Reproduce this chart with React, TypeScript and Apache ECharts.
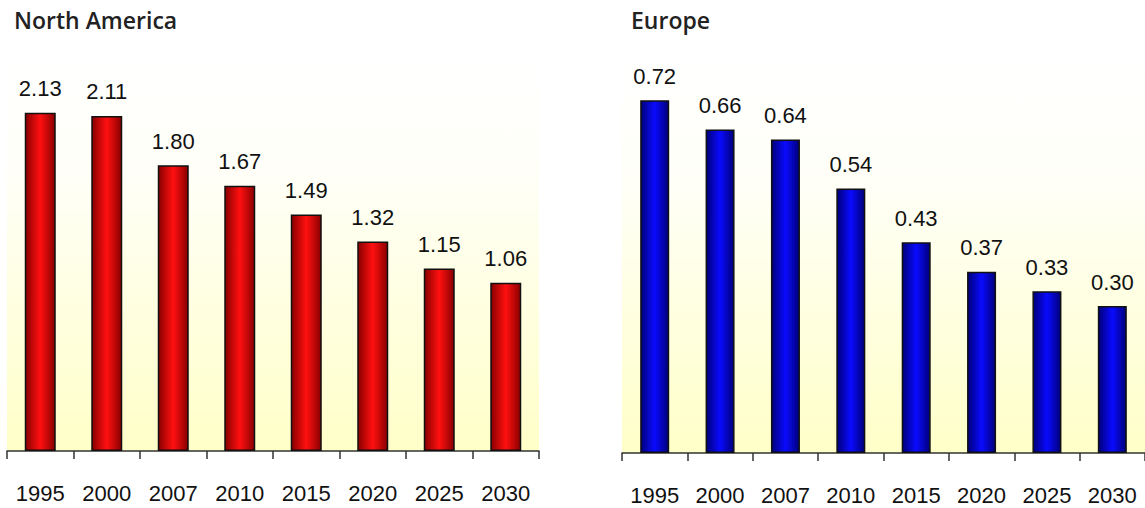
import React, { useEffect, useRef } from "react";
import * as echarts from "echarts";

const years = ["1995", "2000", "2007", "2010", "2015", "2020", "2025", "2030"];
const northAmerica = [2.13, 2.11, 1.8, 1.67, 1.49, 1.32, 1.15, 1.06];
const europe = [0.72, 0.66, 0.64, 0.54, 0.43, 0.37, 0.33, 0.3];
const titles = ["North America", "Europe"];

const barGrad = (edge: string, mid: string) =>
  new echarts.graphic.LinearGradient(0, 0, 1, 0, [
    { offset: 0, color: edge },
    { offset: 0.5, color: mid },
    { offset: 1, color: edge },
  ]);

const bgGrad = () =>
  new echarts.graphic.LinearGradient(0, 0, 0, 1, [
    { offset: 0, color: "#ffffff" },
    { offset: 0.3, color: "#fffff8" },
    { offset: 1, color: "#ffffc8" },
  ]);

export default function App() {
  const ref = useRef<HTMLDivElement>(null);
  useEffect(() => {
    const chart = echarts.init(ref.current!, null, { renderer: "svg" });
    const font = "'Liberation Sans', Arial, sans-serif";
    const xAxisBase = {
      type: "category" as const,
      data: years,
      axisLine: { show: true, lineStyle: { color: "#333", width: 1.5 } },
      axisTick: { show: true, length: 8, lineStyle: { color: "#333", width: 1.5 } },
      axisLabel: { color: "#111", fontSize: 22, fontFamily: font, margin: 31 },
    };
    const yAxisBase = {
      type: "value" as const,
      show: false,
      splitLine: { show: false },
    };
    const labelBase = {
      show: true,
      position: "top" as const,
      distance: 13,
      color: "#111",
      fontSize: 22,
      fontFamily: font,
      formatter: (p: any) => Number(p.value).toFixed(2),
    };
    const titleStyle = { fontFamily: "'Open Sans', sans-serif", fontWeight: 600, fontSize: 23, color: "#222" };
    chart.setOption({
      animation: false,
      backgroundColor: "#ffffff",
      title: [
        { text: titles[0], left: 9, top: 3, textStyle: titleStyle },
        { text: titles[1], left: 626, top: 3, textStyle: titleStyle },
      ],
      grid: [
        { left: 7, top: 54, width: 532, height: 397, show: true, borderWidth: 0, backgroundColor: bgGrad() },
        { left: 622, top: 61, width: 528, height: 392, show: true, borderWidth: 0, backgroundColor: bgGrad() },
      ],
      xAxis: [
        { ...xAxisBase, gridIndex: 0 },
        { ...xAxisBase, gridIndex: 1 },
      ],
      yAxis: [
        { ...yAxisBase, gridIndex: 0, min: 0, max: 2.5 },
        { ...yAxisBase, gridIndex: 1, min: 0, max: 0.8 },
      ],
      series: [
        {
          type: "bar",
          xAxisIndex: 0,
          yAxisIndex: 0,
          data: northAmerica,
          barWidth: 31,
          itemStyle: { color: barGrad("#8a0000", "#ff1010"), borderColor: "#111", borderWidth: 1.5 },
          label: labelBase,
        },
        {
          type: "bar",
          xAxisIndex: 1,
          yAxisIndex: 1,
          data: europe,
          barWidth: 29,
          itemStyle: { color: barGrad("#00007a", "#0a0aff"), borderColor: "#111", borderWidth: 1.5 },
          label: labelBase,
        },
      ],
    });
    return () => chart.dispose();
  }, []);
  return <div ref={ref} style={{ width: 1145, height: 508, position: "absolute", left: 0, top: 0 }} />;
}
